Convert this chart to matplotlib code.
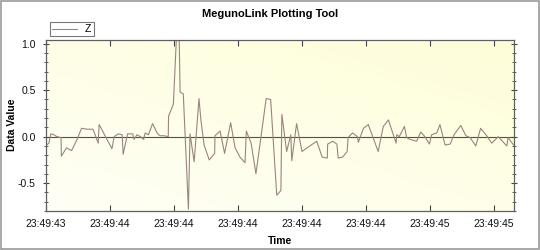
import numpy as np
import matplotlib
matplotlib.use("Agg")
from matplotlib import pyplot as plt
from matplotlib.patches import Rectangle
from matplotlib.ticker import MultipleLocator

plt.rcParams['font.family'] = ['Liberation Sans', 'DejaVu Sans']

# seconds after 23:49:43
time_s = [0.402, 0.409, 0.415, 0.425, 0.434, 0.447, 0.448, 0.464, 0.480, 0.497,
          0.511, 0.528, 0.547, 0.563, 0.566, 0.606, 0.613, 0.626, 0.638, 0.641,
          0.655, 0.671, 0.675, 0.684, 0.695, 0.705, 0.710, 0.720, 0.733, 0.747,
          0.756, 0.769, 0.782, 0.783, 0.798, 0.808, 0.816, 0.819, 0.829, 0.845,
          0.850, 0.863, 0.878, 0.884, 0.894, 0.910, 0.927, 0.928, 0.944, 0.958,
          0.977, 0.991, 1.006, 1.022, 1.026, 1.041, 1.056, 1.088, 1.102, 1.121,
          1.134, 1.137, 1.152, 1.165, 1.168, 1.183, 1.200, 1.220, 1.246, 1.263,
          1.279, 1.280, 1.296, 1.309, 1.313, 1.327, 1.341, 1.344, 1.358, 1.373,
          1.376, 1.392, 1.407, 1.422, 1.438, 1.454, 1.470, 1.494, 1.496, 1.504,
          1.520, 1.527, 1.538, 1.558, 1.571, 1.584, 1.598, 1.605, 1.621, 1.631,
          1.647, 1.663, 1.675, 1.696, 1.712, 1.725, 1.743, 1.758, 1.775, 1.793,
          1.813, 1.840, 1.844, 1.861]
z_vals = [-0.09, -0.07, 0.03, 0.02, 0.00, -0.01, -0.21, -0.12, -0.15, -0.03,
          0.09, 0.08, 0.08, -0.07, 0.13, -0.13, 0.00, 0.03, 0.02, -0.19,
          0.03, 0.03, -0.03, 0.02, 0.00, -0.03, 0.04, 0.02, 0.14, 0.04,
          0.01, 0.01, 0.00, 0.22, 0.35, 1.10, 1.10, 0.48, 0.46, -0.78,
          0.03, -0.27, 0.41, 0.18, -0.09, -0.25, -0.18, 0.01, 0.06, -0.18,
          0.15, -0.12, -0.22, -0.28, 0.06, -0.07, -0.40, 0.41, 0.40, -0.63,
          -0.58, 0.24, -0.16, 0.02, -0.26, 0.14, -0.16, -0.11, -0.05, -0.22,
          -0.23, -0.08, -0.05, -0.08, -0.23, -0.22, -0.16, -0.01, 0.04, 0.00,
          -0.06, 0.09, 0.13, -0.01, -0.16, 0.11, 0.18, -0.07, 0.02, 0.00,
          0.11, -0.01, -0.03, -0.05, 0.05, 0.00, -0.08, 0.02, 0.04, 0.13,
          -0.09, -0.08, 0.02, 0.12, 0.01, -0.01, -0.10, 0.09, 0.02, -0.07,
          0.00, -0.10, -0.01, -0.09]

tick_pos = [0.4, 0.6, 0.8, 1.0, 1.2, 1.4, 1.6, 1.8]
tick_labels = ["23:49:43", "23:49:44", "23:49:44", "23:49:44",
               "23:49:44", "23:49:44", "23:49:45", "23:49:45"]

fig = plt.figure(figsize=(5.4, 2.5), dpi=100)
ax = fig.add_axes([0.0852, 0.156, 0.8667, 0.684])

# pale yellow background gradient
gx, gy = np.meshgrid(np.linspace(0, 1, 50), np.linspace(0, 1, 50))
g = 0.55 * gy + 0.45 * gx
c0 = np.array([1.0, 1.0, 0.965])
c1 = np.array([0.995, 0.995, 0.85])
img = c0[None, None, :] * (1 - g[..., None]) + c1[None, None, :] * g[..., None]
ax.imshow(img, extent=[0, 1, 0, 1], transform=ax.transAxes, origin='lower',
          aspect='auto', zorder=0)

ax.axhline(0, color='#505050', lw=0.8, zorder=1)
ax.plot(time_s, z_vals, color='#9a8480', lw=0.8, label='Z', zorder=2)

ax.set_xlim(0.4, 1.8625)
ax.set_ylim(-0.80, 1.04)
ax.set_xticks(tick_pos)
ax.set_xticklabels(tick_labels)
ax.set_yticks([-0.5, 0.0, 0.5, 1.0])
ax.set_yticklabels(["-0.5", "0.0", "0.5", "1.0"])
ax.yaxis.set_minor_locator(MultipleLocator(0.1))
ax.tick_params(axis='x', direction='in', top=True, length=4, width=0.8, pad=6,
               labelsize=7.5, colors='#444444', labelcolor='#111111')
ax.tick_params(axis='y', which='both', direction='inout', right=True,
               labelsize=7.5, colors='#444444', labelcolor='#111111')
ax.tick_params(axis='y', which='major', length=5, width=0.8, pad=5)
ax.tick_params(axis='y', which='minor', length=3, width=0.6)
for s in ax.spines.values():
    s.set_color('#606060')
    s.set_linewidth(0.9)

ax.set_xlabel("Time", fontsize=7.5, fontweight='bold', labelpad=5)
fig.text(12 / 540, 1 - 125 / 250, "Data Value", rotation=90, ha='center',
         va='center', fontsize=7.5, fontweight='bold')
fig.text(0.5, 0.945, "MegunoLink Plotting Tool", ha='center', va='center',
         fontsize=8, fontweight='bold')

leg = ax.legend(loc='lower left', bbox_to_anchor=(0.0, 1.0), fontsize=7.5,
                frameon=True, fancybox=False, handlelength=2.4,
                borderpad=0.2, borderaxespad=0.35, handletextpad=0.8)
leg.get_frame().set_edgecolor('#555555')
leg.get_frame().set_linewidth(0.8)

fig.patches.append(Rectangle((0.002, 0.004), 0.996, 0.992, transform=fig.transFigure,
                             fill=False, edgecolor='#999999', lw=1.2))

fig.savefig("out.png", dpi=100)
